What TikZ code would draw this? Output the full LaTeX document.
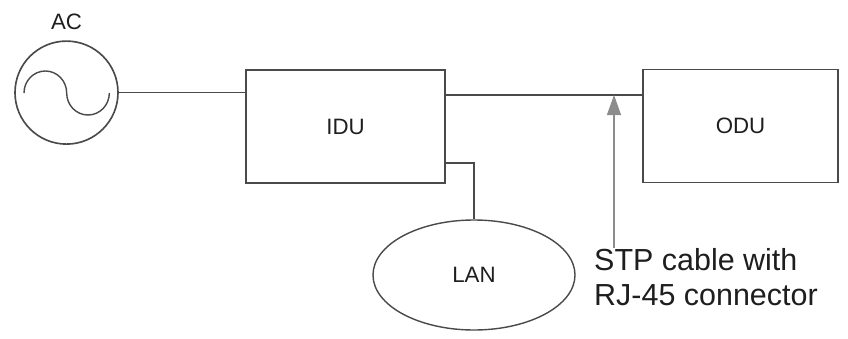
\documentclass[tikz,border=0pt]{standalone}
\usepackage{fontspec}
\setmainfont{Liberation Sans}
\usepackage{xcolor}
\usepackage{tikz}
\usetikzlibrary{arrows.meta,positioning,shapes.geometric,calc}
\definecolor{wiregray}{HTML}{4A4A4A}
\definecolor{notegray}{HTML}{8C8C8C}
\definecolor{inkblack}{HTML}{1E1E1E}
\tikzset{
  unitbox/.style={
    rectangle, draw=wiregray, line width=1.4pt,
    minimum width=5.97cm, minimum height=3.39cm,
    font=\fontsize{19pt}{22pt}\selectfont, text=inkblack,
    inner sep=0pt
  },
  acsource/.style={
    circle, draw=wiregray, line width=1.4pt,
    minimum size=3.09cm, inner sep=0pt
  },
  lanbubble/.style={
    ellipse, draw=wiregray, line width=1.2pt,
    minimum width=6.06cm, minimum height=3.3cm,
    font=\fontsize{19pt}{22pt}\selectfont, text=inkblack,
    inner sep=0pt
  },
  wire/.style={
    draw=wiregray, line width=1.4pt
  },
  callout/.style={
    -{Triangle[length=0.6cm, width=0.42cm]}, draw=notegray, fill=notegray,
    line width=0.9pt
  },
  notetext/.style={
    font=\fontsize{26pt}{30pt}\selectfont, text=inkblack,
    align=left, inner sep=0pt
  },
}

\begin{document}
\begin{tikzpicture}[x=0.03cm, y=-0.03cm]
  \useasboundingbox (0,0) rectangle (848,338);
  % units
  \node[acsource, label={[font=\fontsize{19pt}{22pt}\selectfont, text=inkblack, inner sep=0pt, label distance=0.32cm]above:AC}] (ac) at (66.5,92.6) {};
  \node[unitbox] (idu) at (345.5,126.5) {IDU};
  \node[unitbox, minimum width=5.85cm] (odu) at (740.5,126) {ODU};
  \node[lanbubble] (lan) at (474,275) {LAN};
  \node[notetext, anchor=north west] (note) at (594,248) {STP cable with\\RJ-45 connector};
  % sine wave of the source
  \draw[wire, line width=1.2pt] (24,93) arc[start angle=180, end angle=0, x radius=0.64cm, y radius=0.66cm]
    arc[start angle=180, end angle=360, x radius=0.64cm, y radius=0.66cm];
  % wiring
  \coordinate (tap) at (614,95);
  \draw[wire] (ac) -- (ac -| idu.west);
  \draw[wire] (idu.east |- tap) -- (odu.west |- tap);
  \draw[wire] ([yshift=0.63cm]idu.south east) -| (lan.north);
  \draw[callout] (note.north -| tap) -- (tap);
\end{tikzpicture}
\end{document}
